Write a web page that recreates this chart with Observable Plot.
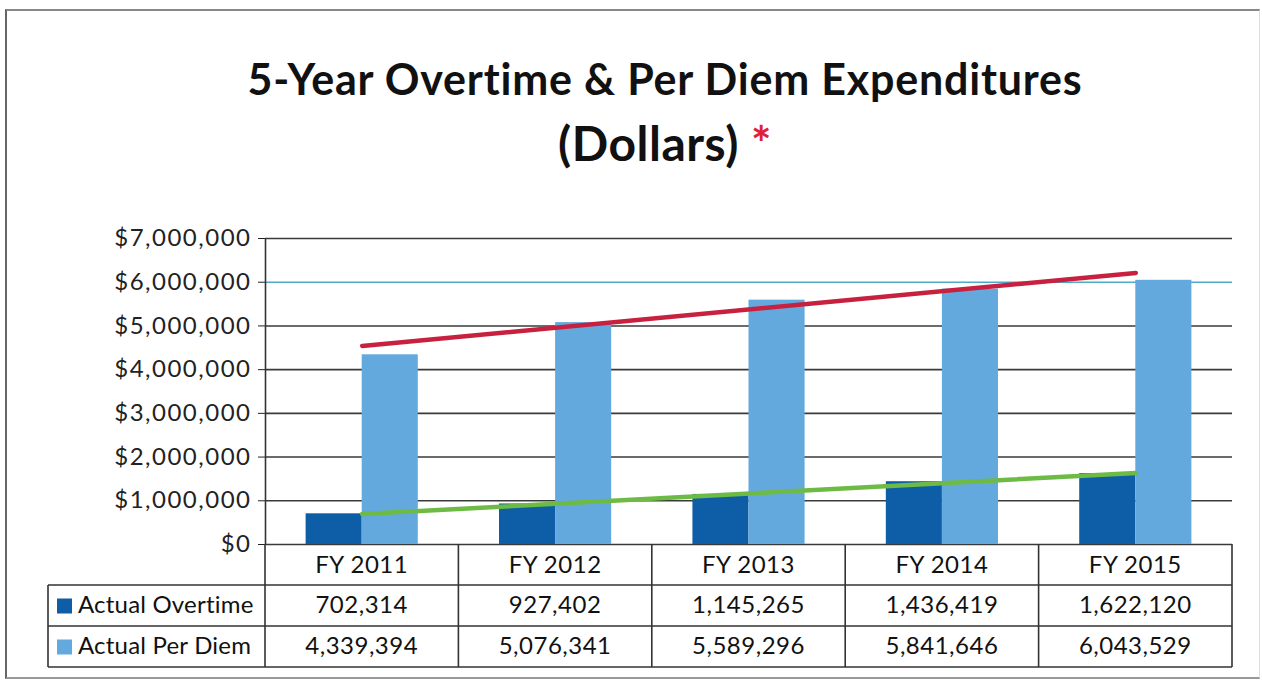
<!DOCTYPE html>
<html><head><meta charset="utf-8">
<script src="https://cdn.jsdelivr.net/npm/d3@7"></script>
<script src="https://cdn.jsdelivr.net/npm/@observablehq/plot@0.6"></script>
<style>
body{margin:0;background:#fff;font-family:Lato,"Open Sans",sans-serif;}
#wrap{position:relative;width:1262px;height:681px;overflow:hidden;background:#fff;}
#frame{position:absolute;left:5px;top:9px;width:1252px;height:666px;border-left:2px solid #666;border-top:2px solid #888;border-right:1px solid #ddd;border-bottom:2px solid #999;}
.t{position:absolute;left:34px;width:1262px;text-align:center;font-weight:bold;color:#111;white-space:nowrap;}
#chart{position:absolute;left:0;top:220px;}
#table{position:absolute;left:0;top:0;}
</style></head><body><div id="wrap"><div id="frame"></div>
<div class="t" style="top:53px;font-size:43px;letter-spacing:0.8px">5-Year Overtime &amp; Per Diem Expenditures</div>
<div class="t" style="top:114px;font-size:48px;letter-spacing:0.5px">(Dollars) <span style="color:#e0203a">*</span></div>
<div id="chart"></div></div>
<script>
const years = ["FY 2011", "FY 2012", "FY 2013", "FY 2014", "FY 2015"];
const overtime = [702314, 927402, 1145265, 1436419, 1622120];
const perDiem = [4339394, 5076341, 5589296, 5841646, 6043529];
const yTicks = [0, 1000000, 2000000, 3000000, 4000000, 5000000, 6000000, 7000000];
const seriesNames = ["Actual Overtime", "Actual Per Diem"];
const seriesColors = ["#0d5ea6", "#64a9de"];
const trendColors = ["#6dbb45", "#c8203f"];

const rows = years.map((year, k) => ({year, i: k + 1, overtime: overtime[k], perDiem: perDiem[k]}));
const barW = 0.29;
const fmt = d3.format(",");

const chart = Plot.plot({
  width: 1262, height: 340,
  marginLeft: 265, marginRight: 30, marginTop: 18, marginBottom: 16,
  x: {domain: [0.5, 5.5], axis: null},
  y: {domain: [0, 7000000], ticks: yTicks, tickFormat: d => "$" + fmt(d), tickSize: 7, tickPadding: 7, label: null},
  style: {fontFamily: "Lato, sans-serif", fontSize: "24px", letterSpacing: "1.5px", color: "#222", background: "transparent", overflow: "visible"},
  marks: [
    Plot.ruleY(yTicks, {x1: 0.5, x2: 5.5, stroke: d => d === 6000000 ? "#4fa9c9" : "#3a3a3a", strokeWidth: 1.6}),
    Plot.rectY(rows, {x1: d => d.i - barW, x2: d => d.i, y: "overtime", fill: seriesColors[0]}),
    Plot.rectY(rows, {x1: d => d.i, x2: d => d.i + barW, y: "perDiem", fill: seriesColors[1]}),
    Plot.linearRegressionY(rows, {x: "i", y: "perDiem", stroke: trendColors[1], strokeWidth: 4.5, ci: 0}),
    Plot.linearRegressionY(rows, {x: "i", y: "overtime", stroke: trendColors[0], strokeWidth: 4.5, ci: 0}),
    Plot.ruleX([0.5], {stroke: "#333", strokeWidth: 1.6})
  ]
});
document.getElementById("chart").appendChild(chart);

// data table under the plot, aligned with the x scale
const xs = chart.scale("x");
const top0 = 220;
const y0 = top0 + chart.scale("y").apply(0);
const rowLines = [y0, 585, 626, 667];
const labelLeft = 48;
const svg = d3.select("#wrap").append("svg")
  .attr("id", "table").attr("width", 1262).attr("height", 681)
  .style("font-family", "Lato, sans-serif").style("font-size", "24px");
const edges = d3.range(0, years.length + 1).map(k => xs.apply(k + 0.5));
const right = edges[edges.length - 1];
const lineColor = "#333";
[1, 2, 3].forEach(r => svg.append("line").attr("x1", labelLeft).attr("x2", right)
  .attr("y1", rowLines[r]).attr("y2", rowLines[r]).attr("stroke", lineColor).attr("stroke-width", 1.6));
edges.forEach(x => svg.append("line").attr("x1", x).attr("x2", x).attr("y1", y0).attr("y2", rowLines[3]).attr("stroke", lineColor).attr("stroke-width", 1.6));
svg.append("line").attr("x1", labelLeft).attr("x2", labelLeft).attr("y1", rowLines[1]).attr("y2", rowLines[3]).attr("stroke", lineColor).attr("stroke-width", 1.6);
years.forEach((yr, k) => svg.append("text").attr("x", xs.apply(k + 1)).attr("y", (rowLines[0] + rowLines[1]) / 2 + 2)
  .attr("text-anchor", "middle").attr("dominant-baseline", "middle").attr("fill", "#111")
  .style("letter-spacing", "0.5px").text(yr));
const seriesValues = [overtime, perDiem];
seriesValues.forEach((vals, r) => {
  const cy = (rowLines[r + 1] + rowLines[r + 2]) / 2 + 1;
  svg.append("rect").attr("x", 57).attr("y", cy - 8).attr("width", 15).attr("height", 15).attr("fill", seriesColors[r]);
  svg.append("text").attr("x", 78).attr("y", cy).attr("dominant-baseline", "middle").attr("fill", "#111")
    .style("letter-spacing", "0.2px").text(seriesNames[r]);
  vals.forEach((v, k) => svg.append("text").attr("x", xs.apply(k + 1)).attr("y", cy)
    .attr("text-anchor", "middle").attr("dominant-baseline", "middle").attr("fill", "#111")
    .style("letter-spacing", "0.5px").text(fmt(v)));
});
</script></body></html>
